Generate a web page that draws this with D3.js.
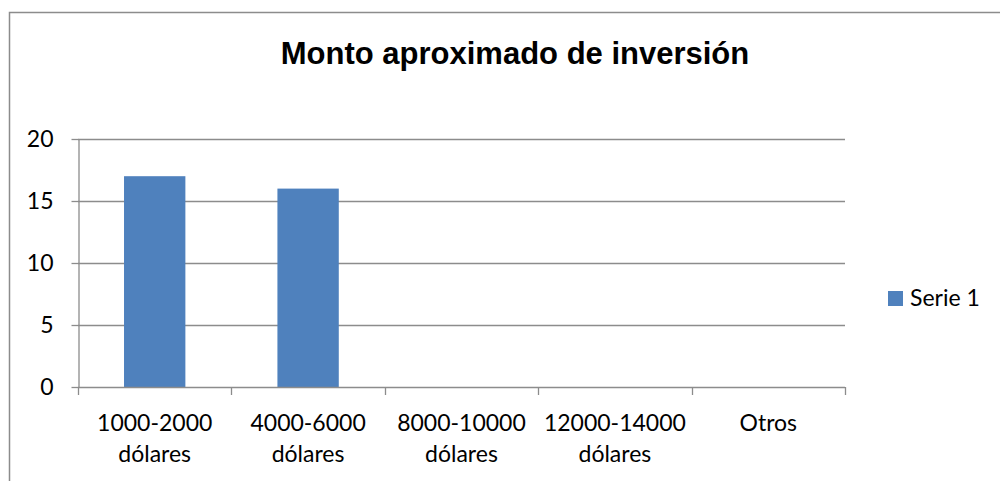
<!DOCTYPE html>
<html>
<head>
<meta charset="utf-8">
<script src="https://cdn.jsdelivr.net/npm/d3@7"></script>
<style>
  html, body { margin: 0; padding: 0; background: #fff; }
  svg { display: block; }
</style>
</head>
<body>
<svg id="chart" width="1000" height="481"></svg>
<script>
const categories = [
  ["1000-2000", "dólares"],
  ["4000-6000", "dólares"],
  ["8000-10000", "dólares"],
  ["12000-14000", "dólares"],
  ["Otros"]
];
const values = [17, 16, 0, 0, 0];
const yTicks = [0, 5, 10, 15, 20];
const seriesName = "Serie 1";
const title = "Monto aproximado de inversión";

const svg = d3.select("#chart");
const labelFont = "Lato, 'Open Sans', sans-serif";
const gray = "#8c8c8c";

// chart border
svg.append("rect")
  .attr("x", 9.5).attr("y", 12.5)
  .attr("width", 1000).attr("height", 600)
  .attr("fill", "none").attr("stroke", gray).attr("stroke-width", 1.5);

const plot = { left: 78, right: 845, top: 139, bottom: 387 };

const x = d3.scaleBand()
  .domain(d3.range(categories.length))
  .range([plot.left, plot.right])
  .padding(0);

const y = d3.scaleLinear()
  .domain([0, 20])
  .range([plot.bottom, plot.top]);

// gridlines
svg.append("g")
  .selectAll("line")
  .data(yTicks.filter(d => d > 0))
  .join("line")
  .attr("x1", plot.left).attr("x2", plot.right)
  .attr("y1", d => Math.round(y(d)) + 0.5).attr("y2", d => Math.round(y(d)) + 0.5)
  .attr("stroke", gray).attr("stroke-width", 1.3);

// bars
const barFrac = 0.4;
svg.append("g")
  .selectAll("rect")
  .data(values)
  .join("rect")
  .attr("x", (d, i) => x(i) + x.bandwidth() * (1 - barFrac) / 2)
  .attr("width", x.bandwidth() * barFrac)
  .attr("y", d => y(d))
  .attr("height", d => y(0) - y(d))
  .attr("fill", "#4F81BD");

// y axis
const yAxis = d3.axisLeft(y).tickValues(yTicks).tickSize(7).tickPadding(18).tickSizeOuter(0);
const gy = svg.append("g").attr("transform", `translate(${plot.left + 0.5},0)`).call(yAxis);
gy.select(".domain").attr("stroke", gray).attr("stroke-width", 1.3);
gy.selectAll(".tick line").attr("stroke", gray).attr("stroke-width", 1.3);
gy.selectAll(".tick text")
  .attr("font-family", labelFont).attr("font-size", 23).attr("fill", "#000");

// x axis (ticks at category boundaries)
const xAxisLine = svg.append("g");
xAxisLine.append("line")
  .attr("x1", plot.left).attr("x2", plot.right)
  .attr("y1", plot.bottom + 0.5).attr("y2", plot.bottom + 0.5)
  .attr("stroke", gray).attr("stroke-width", 1.3);
const bounds = d3.range(categories.length).map(i => x(i)).concat([x(categories.length - 1) + x.bandwidth()]);
xAxisLine.selectAll("line.tk")
  .data(bounds)
  .join("line")
  .attr("class", "tk")
  .attr("x1", d => Math.round(d) + 0.5).attr("x2", d => Math.round(d) + 0.5)
  .attr("y1", plot.bottom).attr("y2", plot.bottom + 8)
  .attr("stroke", gray).attr("stroke-width", 1.3);

// category labels
const labels = svg.append("g");
categories.forEach((lines, i) => {
  const cx = x(i) + x.bandwidth() / 2;
  lines.forEach((t, j) => {
    labels.append("text")
      .attr("x", cx).attr("y", 431 + j * 31)
      .attr("text-anchor", "middle")
      .attr("font-family", labelFont).attr("font-size", 23)
      .attr("fill", "#000")
      .text(t);
  });
});

// title
svg.append("text")
  .attr("x", 515).attr("y", 64)
  .attr("text-anchor", "middle")
  .attr("font-family", "'Liberation Sans', Arial, sans-serif")
  .attr("font-weight", "bold").attr("font-size", 31)
  .attr("fill", "#000")
  .text(title);

// legend
const lg = svg.append("g");
lg.append("rect").attr("x", 888).attr("y", 291).attr("width", 15).attr("height", 15).attr("fill", "#4F81BD");
lg.append("text").attr("x", 910).attr("y", 306)
  .attr("font-family", labelFont).attr("font-size", 23).attr("fill", "#000")
  .text(seriesName);
</script>
</body>
</html>
